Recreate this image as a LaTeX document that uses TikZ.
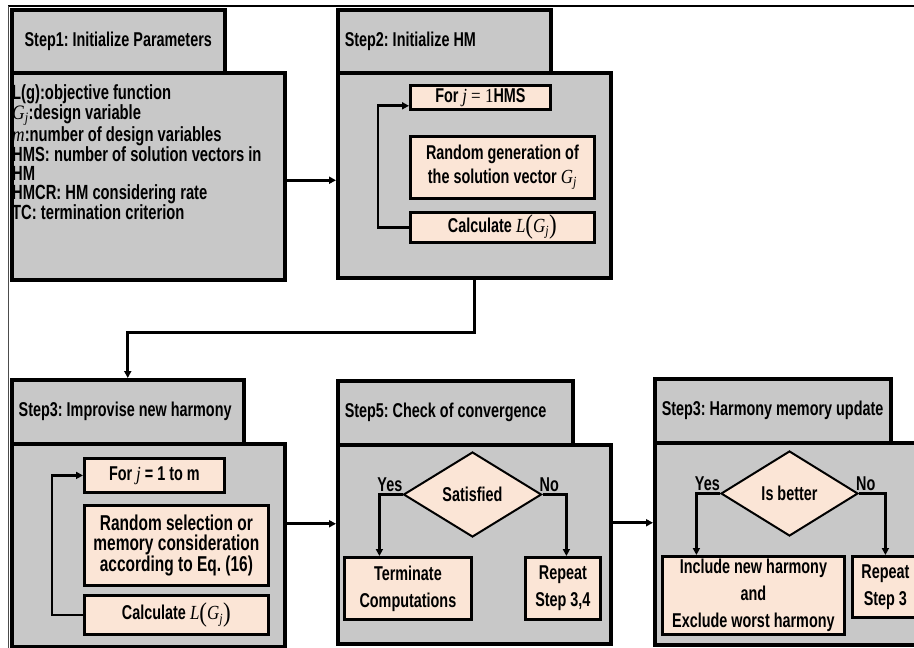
\documentclass[tikz,border=0pt]{standalone}
\usepackage{fontspec}
\setmainfont{Liberation Sans}[FakeStretch=0.72]
\newfontfamily\serifit{Liberation Serif}[FakeStretch=0.85]
\usetikzlibrary{shapes.geometric,arrows.meta}
\definecolor{gbox}{RGB}{200,200,200}
\definecolor{peach}{RGB}{251,229,214}
\newcommand\myfs[2]{\fontsize{#1}{#2}\selectfont\bfseries\frenchspacing}
\newcommand\vI[1]{{\serifit\mdseries\itshape #1}}
\newcommand\vG{\vI{G}\textsubscript{\vI{j}}}
\newcommand\bigpar[1]{{\serifit\mdseries\fontsize{27}{19}\selectfont\raisebox{-1.5pt}{#1}}}
\newcommand\LG{\vI{L}\bigpar{(}\vG\bigpar{)}}
\begin{document}
\begin{tikzpicture}[x=1pt,y=-1pt,
  outer/.style={draw, line width=3.5pt, fill=gbox, anchor=north west, inner sep=0pt, font=\myfs{20}{19}},
  hdrL/.style={align=flush left, inner xsep=7pt},
  inbox/.style={draw, line width=2.8pt, fill=peach, anchor=north west, inner sep=0pt, align=flush center, font=\myfs{20}{27}},
  dia/.style={diamond, draw, line width=2pt, fill=peach, inner sep=0pt, aspect=1.62, font=\myfs{20}{19}},
  lbl/.style={inner sep=0pt, font=\myfs{20}{19}},
  txt/.style={inner sep=0pt, align=flush left, font=\myfs{20.5}{19}},
  conn/.style={line width=2.7pt},
  arr/.style={conn, -{Triangle[length=7pt,width=7pt]}}]
\useasboundingbox (0,0) rectangle (914,648);
\clip (0,0) rectangle (914,648);
% frame
\draw[line width=2pt] (8,6) -- (914,6);
\draw[line width=1pt, black!70] (8,6) -- (8,648);

% Step 1
\node[outer, minimum width=213pt, minimum height=63pt] (h1) at (10,8) {Step1: Initialize Parameters};
\node[outer, minimum width=273pt, minimum height=207pt] (b1) at (10,71) {};
\node[txt, anchor=north west] (t1) at (12,84) {L(g):objective function\\ \vG:design variable\\ \vI{m}:number of design variables\\ HMS: number of solution vectors in\\ HM\\ HMCR: HM considering rate\\ TC: termination criterion};

% Step 2
\node[outer, hdrL, text width=199pt, minimum height=63pt] (h2) at (336,8) {\mbox{Step2: Initialize HM}};
\node[outer, minimum width=273pt, minimum height=205pt] (b2) at (336,71) {};
\node[inbox, minimum width=140pt, minimum height=24pt] (f2) at (409,84) {For \vI{j} {\serifit\mdseries = 1}HMS};
\node[inbox, minimum width=184pt, minimum height=62pt, font=\myfs{20}{24}] (r2) at (409,135) {Random generation of\\ the solution vector \vG};
\node[inbox, minimum width=184pt, minimum height=30pt] (c2) at (409,211) {Calculate \LG};
\draw[arr] (c2.west) -- ++(-31,0) |- ([yshift=5pt]f2.south west);

% Step 3
\node[outer, hdrL, text width=218pt, minimum height=64pt] (h3) at (10,378) {\mbox{Step3: Improvise new harmony}};
\node[outer, minimum width=273pt, minimum height=203pt] (b3) at (10,442) {};
\node[inbox, minimum width=140pt, minimum height=34pt] (f3) at (83,457) {For \vI{j} = 1 to m};
\node[inbox, minimum width=184pt, minimum height=80pt, font=\myfs{21.5}{20}] (r3) at (83,504) {Random selection or\\ memory consideration\\ according to Eq. (16)};
\node[inbox, minimum width=184pt, minimum height=39pt] (c3) at (83,594) {Calculate \LG};
\draw[arr] (c3.west) -- ++(-31,0) |- (f3.west);

% Step 5
\node[outer, hdrL, text width=221pt, minimum height=64pt] (h5) at (336,379) {\mbox{Step5: Check of convergence}};
\node[outer, minimum width=273pt, minimum height=199pt] (b5) at (336,443) {};
\node[dia, minimum width=138pt, minimum height=85pt] (d5) at (472.5,494.5) {Satisfied};
\node[lbl, anchor=south east, yshift=3pt] (y5) at (d5.west) {Yes};
\node[lbl, anchor=south west, xshift=-3pt, yshift=3pt] (n5) at (d5.east) {No};
\node[inbox, minimum width=127pt, minimum height=62pt] (t5) at (343,556) {Terminate\\ Computations};
\node[inbox, minimum width=75pt, minimum height=62pt] (p5) at (524,556) {Repeat\\ Step 3,4};
\draw[arr] (d5.west) -| ([xshift=-28.5pt]t5.north);
\draw[arr] (d5.east) -| ([xshift=3.5pt]p5.north);

% Step 6
\node[outer, hdrL, text width=222pt, minimum height=64pt] (h6) at (653,377) {\mbox{Step3: Harmony memory update}};
\node[outer, minimum width=275pt, minimum height=202pt] (b6) at (653,441) {};
\node[dia, minimum width=137pt, minimum height=85pt] (d6) at (789.5,493.5) {Is better};
\node[lbl, anchor=south east, yshift=3pt] (y6) at (d6.west) {Yes};
\node[lbl, anchor=south west, xshift=-3pt, yshift=3pt] (n6) at (d6.east) {No};
\node[inbox, minimum width=182pt, minimum height=78pt] (i6) at (661,555) {Include new harmony\\ and\\ Exclude worst harmony};
\node[inbox, minimum width=66pt, minimum height=61pt] (p6) at (851,555) {Repeat\\ Step 3};
\draw[arr] (d6.west) -| ([xshift=-57pt]i6.north);
\draw[arr] (d6.east) -| (p6.north);

% main connectors
\draw[arr] ([yshift=-4pt]b1.east) -- ([yshift=-4pt]b1.east -| b2.west);
\draw[arr] (b2.south) -- ++(0,53) -| (h3.north);
\draw[arr] ([yshift=21.5pt]b3.east) -- ([yshift=21.5pt]b3.east -| b5.west);
\draw[arr] ([yshift=21.5pt]b5.east) -- ([yshift=21.5pt]b5.east -| b6.west);
\end{tikzpicture}
\end{document}
